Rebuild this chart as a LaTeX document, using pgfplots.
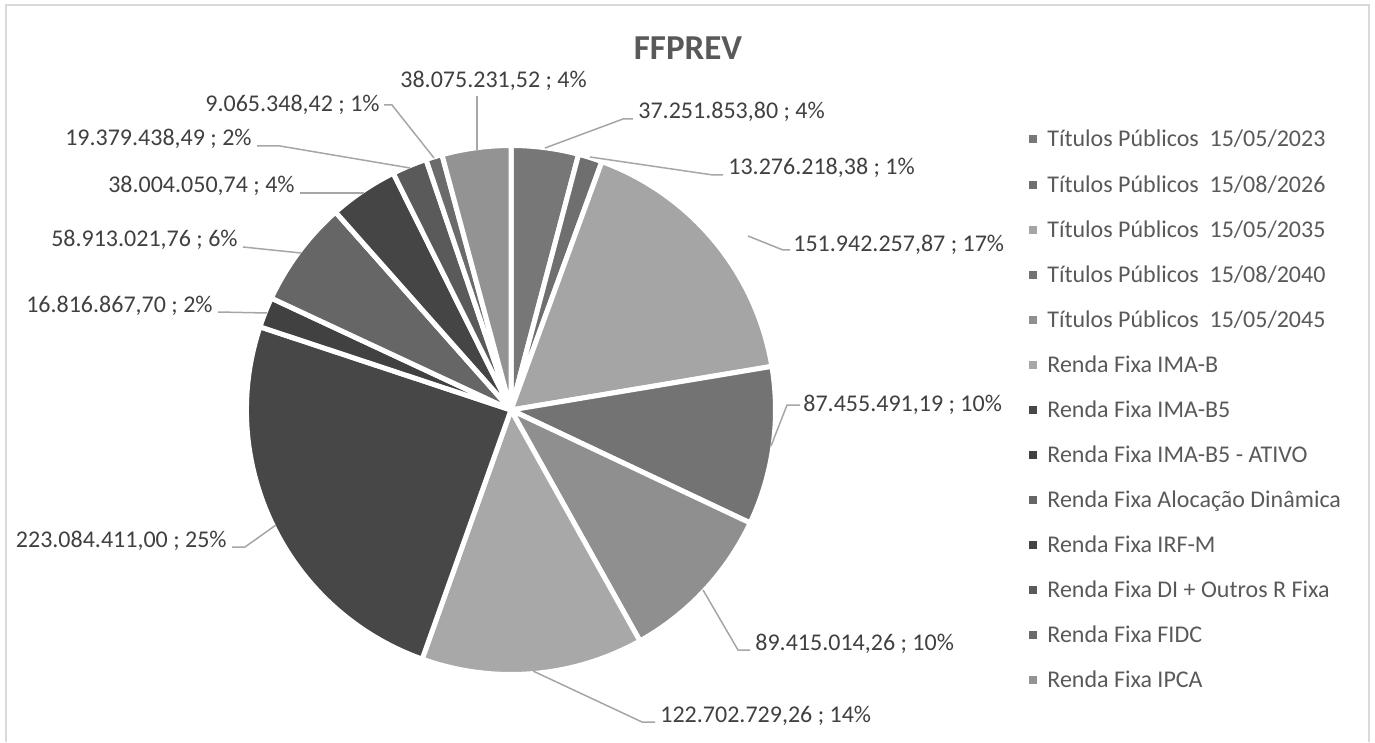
\documentclass[border=0pt]{standalone}
\usepackage{pgfplots}
\pgfplotsset{compat=1.18}
\usepackage{pgfplotstable}
\usepackage{fontspec}
\setmainfont{Carlito}
\definecolor{lbl}{HTML}{404040}
\definecolor{leg}{HTML}{595959}
\definecolor{lead}{HTML}{A6A6A6}
\definecolor{frm}{HTML}{D9D9D9}
\newcommand\dsp{\ \ }

\pgfplotstableread[col sep=comma]{
value,gray,name
37251853.80,119,Títulos Públicos\dsp 15/05/2023
13276218.38,111,Títulos Públicos\dsp 15/08/2026
151942257.87,165,Títulos Públicos\dsp 15/05/2035
87455491.19,115,Títulos Públicos\dsp 15/08/2040
89415014.26,143,Títulos Públicos\dsp 15/05/2045
122702729.26,168,Renda Fixa IMA-B
223084411.00,71,Renda Fixa IMA-B5
16816867.70,65,Renda Fixa IMA-B5 - ATIVO
58913021.76,102,Renda Fixa Alocação Dinâmica
38004050.74,69,Renda Fixa IRF-M
19379438.49,90,Renda Fixa DI + Outros R Fixa
9065348.42,107,Renda Fixa FIDC
38075231.52,147,Renda Fixa IPCA
}\piedata

\begin{document}
\begin{tikzpicture}
\begin{axis}[
  width=687.5pt, height=371pt, scale only axis,
  xmin=0, xmax=1375, ymin=0, ymax=742, y dir=reverse,
  hide axis, clip=false,
]
\pgfplotsextra{%
  \path (axis cs:0,0) rectangle (axis cs:1375,742);
  \draw[frm, line width=1pt] (axis cs:6,742) -- (axis cs:6,5) -- (axis cs:1369,5) -- (axis cs:1369,742);
  \pgfplotstablegetrowsof{\piedata}
  \pgfmathtruncatemacro\nrows{\pgfplotsretval-1}
  \gdef\total{0}
  \foreach \i in {0,...,\nrows}{
    \pgfplotstablegetelem{\i}{value}\of\piedata
    \xdef\total{\fpeval{\total+\pgfplotsretval}}
  }
  \gdef\cum{0}
  \foreach \i in {0,...,\nrows}{
    \pgfplotstablegetelem{\i}{value}\of\piedata
    \edef\v{\pgfplotsretval}
    \pgfplotstablegetelem{\i}{gray}\of\piedata
    \edef\g{\pgfplotsretval}
    \edef\aS{\fpeval{90-360*\cum/\total}}
    \xdef\cum{\fpeval{\cum+\v}}
    \edef\aE{\fpeval{90-360*\cum/\total}}
    \fill[fill={rgb,255:red,\g;green,\g;blue,\g}, draw=white, line width=2.5pt, line join=round]
      (axis cs:511,410) -- ++(\aS:132.25pt) arc[start angle=\aS, end angle=\aE, radius=132.25pt] -- cycle;
  }
  % legend
  \foreach \i in {0,...,\nrows}{
    \pgfplotstablegetelem{\i}{gray}\of\piedata
    \edef\g{\pgfplotsretval}
    \edef\ya{\fpeval{139.5+45.08*\i-4}}
    \edef\yb{\fpeval{139.5+45.08*\i+4}}
    \edef\yt{\fpeval{147+45.08*\i}}
    \fill[fill={rgb,255:red,\g;green,\g;blue,\g}] (axis cs:1029,\ya) rectangle (axis cs:1037,\yb);
    \pgfplotstablegetelem{\i}{name}\of\piedata
    \node[anchor=base west, inner sep=0pt, text=leg, font=\fontsize{12}{14}\selectfont] at (axis cs:1047,\yt) {\pgfplotsretval};
  }
}
% leader lines
\draw[lead, line width=0.75pt] (axis cs:545,148) -- (axis cs:623,119) -- (axis cs:633,119);
\draw[lead, line width=0.75pt] (axis cs:590,157) -- (axis cs:713,175) -- (axis cs:723,175);
\draw[lead, line width=0.75pt] (axis cs:748,236) -- (axis cs:783,250) -- (axis cs:790,250);
\draw[lead, line width=0.75pt] (axis cs:771,446) -- (axis cs:787,405) -- (axis cs:800,405);
\draw[lead, line width=0.75pt] (axis cs:703,590) -- (axis cs:738,650) -- (axis cs:750,650);
\draw[lead, line width=0.75pt] (axis cs:533,671) -- (axis cs:642,722) -- (axis cs:655,722);
\draw[lead, line width=0.75pt] (axis cs:276,525) -- (axis cs:245,547) -- (axis cs:232,547);
\draw[lead, line width=0.75pt] (axis cs:267,313) -- (axis cs:218,312);
\draw[lead, line width=0.75pt] (axis cs:301,253) -- (axis cs:243,247);
\draw[lead, line width=0.75pt] (axis cs:364,193) -- (axis cs:300,193);
\draw[lead, line width=0.75pt] (axis cs:410,168) -- (axis cs:280,146) -- (axis cs:257,146);
\draw[lead, line width=0.75pt] (axis cs:434,158) -- (axis cs:392,105) -- (axis cs:384,105);
\draw[lead, line width=0.75pt] (axis cs:477,150) -- (axis cs:477,96);
% data labels
\begin{scope}[every node/.style={inner sep=0pt, text=lbl, font=\fontsize{12}{14}\selectfont}]
\node[anchor=base west] at (axis cs:638,119) {37.251.853,80 ; 4\%};
\node[anchor=base west] at (axis cs:728,175) {13.276.218,38 ; 1\%};
\node[anchor=base west] at (axis cs:793,251) {151.942.257,87 ; 17\%};
\node[anchor=base west] at (axis cs:803,411) {87.455.491,19 ; 10\%};
\node[anchor=base west] at (axis cs:755,650) {89.415.014,26 ; 10\%};
\node[anchor=base west] at (axis cs:660,722) {122.702.729,26 ; 14\%};
\node[anchor=base east] at (axis cs:227,547) {223.084.411,00 ; 25\%};
\node[anchor=base east] at (axis cs:213,312) {16.816.867,70 ; 2\%};
\node[anchor=base east] at (axis cs:238,247) {58.913.021,76 ; 6\%};
\node[anchor=base east] at (axis cs:295,193) {38.004.050,74 ; 4\%};
\node[anchor=base east] at (axis cs:252,146) {19.379.438,49 ; 2\%};
\node[anchor=base west] at (axis cs:205,112) {9.065.348,42 ; 1\%};
\node[anchor=base west] at (axis cs:400,88) {38.075.231,52 ; 4\%};
\end{scope}
\node[anchor=base, inner sep=0pt, text=leg, font=\bfseries\fontsize{17.5}{20}\selectfont] at (axis cs:688,60) {FFPREV};
\end{axis}
\end{tikzpicture}
\end{document}
